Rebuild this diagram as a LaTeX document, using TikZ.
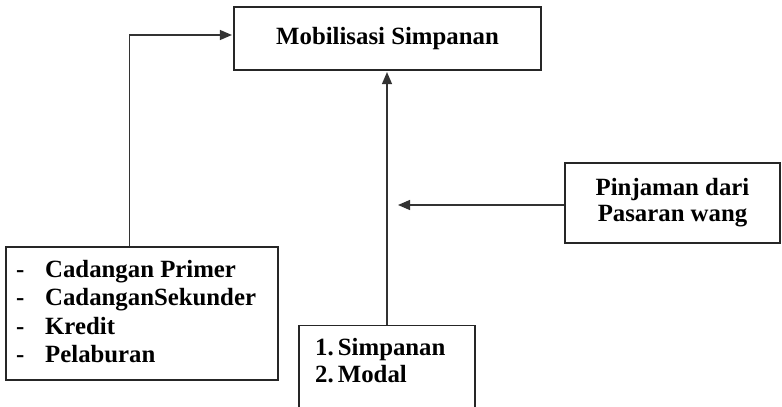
\documentclass[tikz,border=0pt]{standalone}
\usepackage{fontspec}
\setmainfont{Liberation Serif}
\usetikzlibrary{arrows.meta}
\begin{document}
\begin{tikzpicture}[x=1pt,y=-1pt,
  box/.style={draw=black!85, line width=1.2pt, rectangle, inner sep=0pt},
  txt/.style={font=\fontsize{24.8}{27}\selectfont\bfseries, inner sep=0pt},
  arr/.style={draw=black!80, line width=1.2pt, -{Triangle[length=12pt,width=10pt]}}]
\useasboundingbox (0,0) rectangle (782,407);
% top box
\node[box, txt, minimum width=307pt, minimum height=63pt] (top) at (387.5,38.5) {Mobilisasi Simpanan};
% left box
\node[box, minimum width=272pt, minimum height=133pt] (lb) at (142,313.5) {};
\node[txt, font=\fontsize{24.8}{28.3}\selectfont\bfseries, anchor=north west, align=left] (lbtxt) at (16,260)
  {\makebox[29pt][l]{-}Cadangan Primer\\
   \makebox[29pt][l]{-}CadanganSekunder\\
   \makebox[29pt][l]{-}Kredit\\
   \makebox[29pt][l]{-}Pelaburan};
% bottom box (cut off at the page edge)
\node[box, anchor=north, minimum width=176pt, minimum height=110pt] (base) at (387,325) {};
\node[txt, anchor=north west, align=left] (basetxt) at (315,338) {1.\,Simpanan\\2.\,Modal};
% right box
\node[box, txt, font=\fontsize{24.8}{26}\selectfont\bfseries, align=center, minimum width=215pt, minimum height=80pt] (rb) at (672.5,203) {Pinjaman dari\\Pasaran wang};
% connectors
\coordinate (rt) at (398,205);
\draw[arr] ([xshift=-12.5pt]lb.north) |- ([yshift=3.5pt,xshift=-1.5pt]top.west);
\draw[arr, shorten >=1.5pt] (base.north) -- (base.north |- top.south);
\draw[arr] (rb.west |- rt) -- (rt);
\end{tikzpicture}
\end{document}
